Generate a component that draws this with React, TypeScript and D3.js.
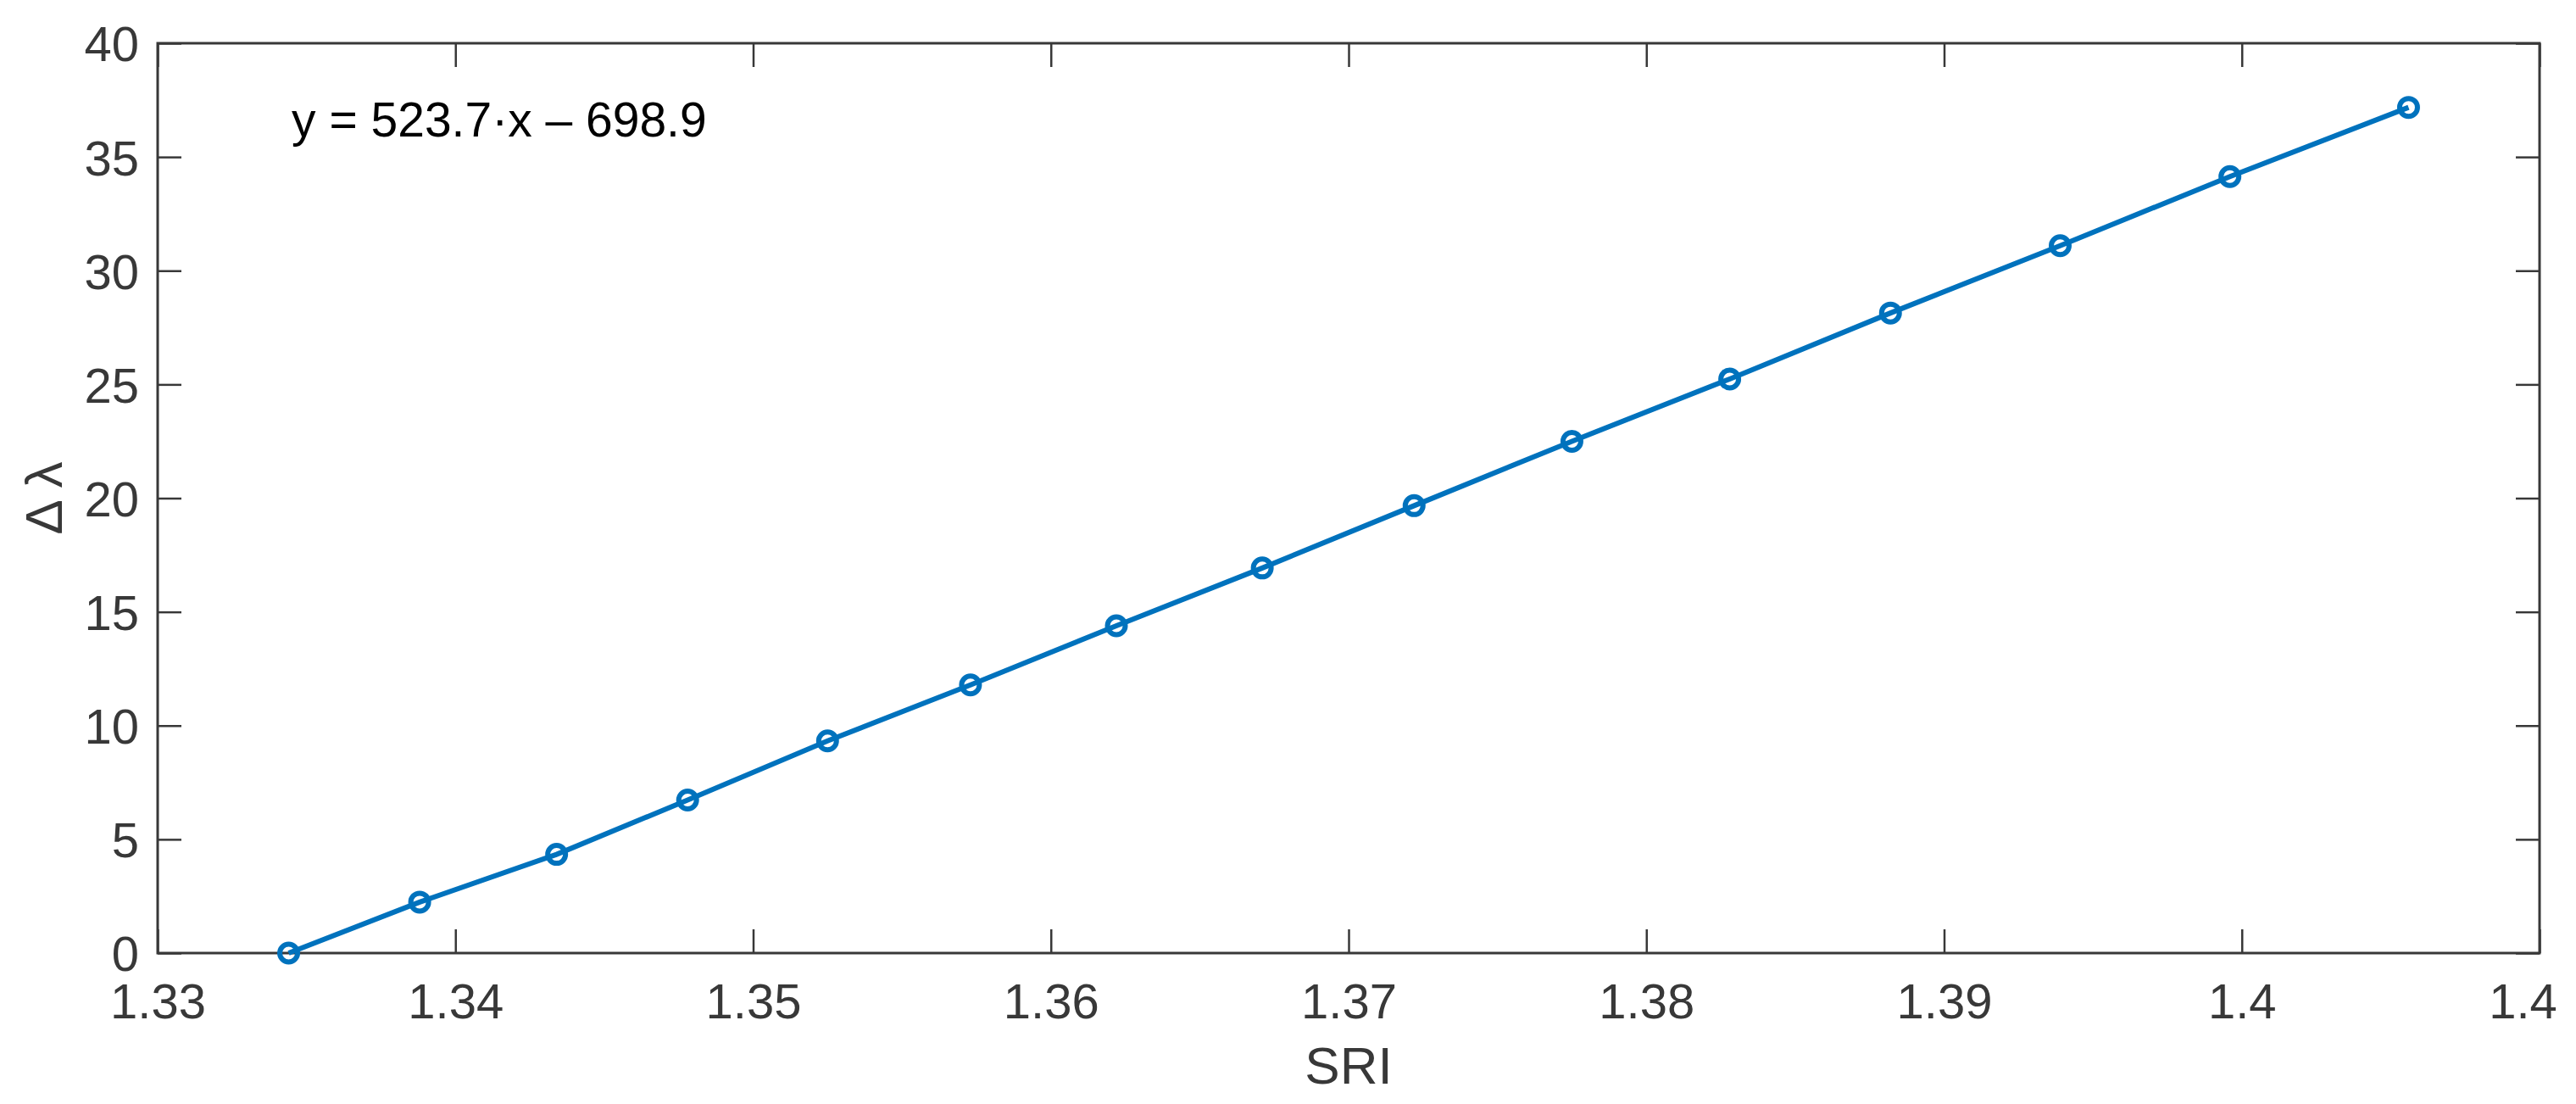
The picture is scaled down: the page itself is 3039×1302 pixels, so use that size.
import React, { useRef, useEffect } from 'react';
import * as d3 from 'd3';

// SRI values (x) and wavelength shift (y)
const sri = [1.3344, 1.3388, 1.3434, 1.3478, 1.3525, 1.3573, 1.3622, 1.3671, 1.3722, 1.3775, 1.3828, 1.3882, 1.3939, 1.3996, 1.4056];
const deltaLambda = [0, 2.24, 4.34, 6.73, 9.33, 11.79, 14.39, 16.93, 19.67, 22.5, 25.24, 28.14, 31.1, 34.14, 37.18];

const xTicks = [1.33, 1.34, 1.35, 1.36, 1.37, 1.38, 1.39, 1.4, 1.41];
const xTickLabels = ['1.33', '1.34', '1.35', '1.36', '1.37', '1.38', '1.39', '1.4', '1.4'];
const yTicks = [0, 5, 10, 15, 20, 25, 30, 35, 40];

const fitText = 'y = 523.7·x – 698.9';
const fitPos = [1.3345, 35.9];

const W = 3039;
const H = 1302;

function App() {
  const svgRef = useRef(null);

  useEffect(() => {
    const margin = { top: 51, right: 43, bottom: 178, left: 186 };
    const width = W - margin.left - margin.right;
    const height = H - margin.top - margin.bottom;
    const axisColor = '#383838';
    const font = '"Liberation Sans", Arial, Helvetica, sans-serif';

    const svg = d3.select(svgRef.current);
    svg.selectAll('*').remove();

    const g = svg.append('g')
      .attr('transform', `translate(${margin.left}, ${margin.top})`);

    const x = d3.scaleLinear().domain([1.33, 1.41]).range([0, width]);
    const y = d3.scaleLinear().domain([0, 40]).range([height, 0]);

    const tickLen = 28;

    // bottom axis with labels
    const xAxis = g.append('g')
      .attr('transform', `translate(0, ${height})`)
      .call(d3.axisBottom(x).tickValues(xTicks)
        .tickFormat((d, i) => xTickLabels[i])
        .tickSizeInner(-tickLen).tickSizeOuter(0).tickPadding(77));
    // top mirror ticks
    const xTop = g.append('g')
      .call(d3.axisTop(x).tickValues(xTicks).tickFormat(() => '')
        .tickSizeInner(-tickLen).tickSizeOuter(0));

    const yAxis = g.append('g')
      .call(d3.axisLeft(y).tickValues(yTicks)
        .tickSizeInner(-tickLen).tickSizeOuter(0).tickPadding(22));
    const yRight = g.append('g')
      .attr('transform', `translate(${width}, 0)`)
      .call(d3.axisRight(y).tickValues(yTicks).tickFormat(() => '')
        .tickSizeInner(-tickLen).tickSizeOuter(0));

    [xAxis, xTop, yAxis, yRight].forEach(a => {
      a.select('.domain').remove();
      a.selectAll('line').attr('stroke', axisColor).attr('stroke-width', 2.5);
      a.selectAll('text')
        .attr('fill', axisColor)
        .style('font-family', font)
        .style('font-size', '58px');
    });
    xAxis.selectAll('text').attr('dy', 0);
    // last label sits a little left of its tick in the original
    xAxis.selectAll('text').filter((d, i) => i === xTicks.length - 1).attr('dx', -20);
    yAxis.selectAll('text').attr('dy', '0.36em');

    // box
    g.append('rect')
      .attr('x', 0).attr('y', 0)
      .attr('width', width).attr('height', height)
      .attr('fill', 'none')
      .attr('stroke', axisColor)
      .attr('stroke-width', 3);

    const data = sri.map((v, i) => [v, deltaLambda[i]]);
    const line = d3.line()
      .x(d => x(d[0]))
      .y(d => y(d[1]));

    const blue = '#0072BD';
    g.append('path')
      .datum(data)
      .attr('d', line)
      .attr('fill', 'none')
      .attr('stroke', blue)
      .attr('stroke-width', 6);

    g.selectAll('circle.pt')
      .data(data)
      .enter()
      .append('circle')
      .attr('class', 'pt')
      .attr('cx', d => x(d[0]))
      .attr('cy', d => y(d[1]))
      .attr('r', 10.5)
      .attr('fill', 'none')
      .attr('stroke', blue)
      .attr('stroke-width', 6);

    // fit equation
    g.append('text')
      .attr('x', x(fitPos[0]))
      .attr('y', y(fitPos[1]))
      .attr('fill', '#000')
      .style('font-family', font)
      .style('font-size', '57px')
      .text(fitText);

    // axis labels
    g.append('text')
      .attr('x', width / 2)
      .attr('y', height + 154)
      .attr('text-anchor', 'middle')
      .attr('fill', axisColor)
      .style('font-family', font)
      .style('font-size', '62px')
      .text('SRI');

    g.append('text')
      .attr('transform', `translate(${-113}, ${height / 2}) rotate(-90)`)
      .attr('text-anchor', 'middle')
      .attr('fill', axisColor)
      .style('font-family', font)
      .style('font-size', '62px')
      .text('Δ λ');
  }, []);

  return (
    <svg ref={svgRef} width={W} height={H}
      style={{ position: 'absolute', left: 0, top: 0, background: '#fff' }} />
  );
}

export default App;
